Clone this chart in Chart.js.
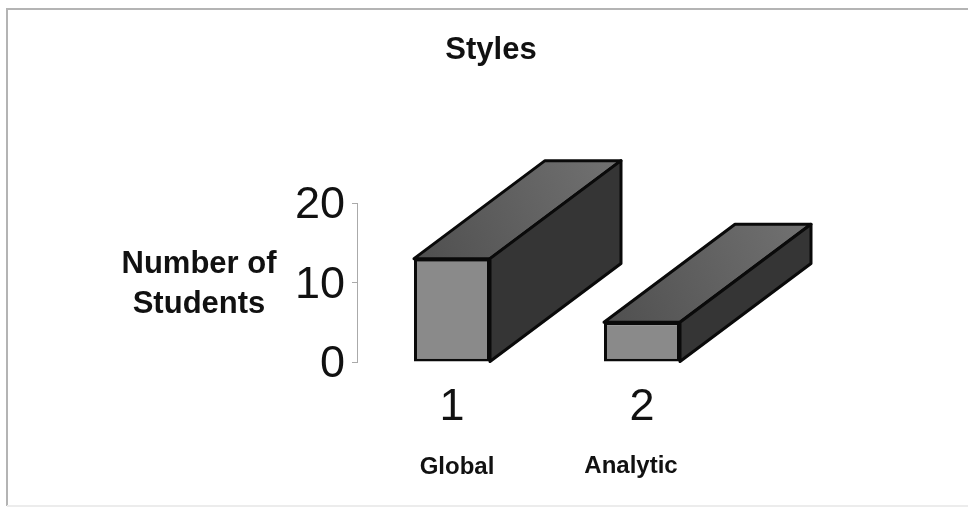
<!DOCTYPE html>
<html>
<head>
<meta charset="utf-8">
<title>Styles</title>
<style>
html, body { margin: 0; padding: 0; background: #fff; }
canvas { display: block; }
</style>
<script src="https://cdn.jsdelivr.net/npm/chart.js@4"></script>
</head>
<body>
<canvas id="canvas" width="968" height="510"></canvas>
<script>
const categories = ['1', '2'];
const students = [13, 5];
const styleNames = ['Global', 'Analytic'];
const yTicks = [0, 10, 20];

const FONT = '"Liberation Sans", Arial, sans-serif';

// extruded top and side of each bar, worked out from the bar elements
const depthBars = {
    id: 'depthBars',
    beforeDatasetsDraw(chart) {
        const ctx = chart.ctx;
        const dx = 131, dy = -98;
        chart.getDatasetMeta(0).data.forEach(function (bar) {
            const half = bar.width / 2;
            const l = bar.x - half, r = bar.x + half;
            const t = bar.y, b = bar.base;

            ctx.save();
            ctx.lineJoin = 'round';
            ctx.lineWidth = 3;
            ctx.strokeStyle = '#0a0a0a';

            const top = ctx.createLinearGradient(l, t, r + dx, t + dy);
            top.addColorStop(0, '#4f4f4f');
            top.addColorStop(1, '#727272');
            ctx.beginPath();
            ctx.moveTo(l, t);
            ctx.lineTo(l + dx, t + dy);
            ctx.lineTo(r + dx, t + dy);
            ctx.lineTo(r, t);
            ctx.closePath();
            ctx.fillStyle = top;
            ctx.fill();
            ctx.stroke();

            ctx.beginPath();
            ctx.moveTo(r, t);
            ctx.lineTo(r + dx, t + dy);
            ctx.lineTo(r + dx, b + dy);
            ctx.lineTo(r, b);
            ctx.closePath();
            ctx.fillStyle = '#353535';
            ctx.fill();
            ctx.stroke();
            ctx.restore();
        });
    }
};

// frame, title, y caption and the names under the categories
const notes = {
    id: 'notes',
    beforeDraw(chart) {
        const ctx = chart.ctx;
        ctx.save();
        ctx.strokeStyle = '#b4b4b4';
        ctx.lineWidth = 2;
        ctx.beginPath();
        ctx.moveTo(7, 506);
        ctx.lineTo(7, 9);
        ctx.lineTo(968, 9);
        ctx.stroke();
        ctx.strokeStyle = '#ececec';
        ctx.beginPath();
        ctx.moveTo(7, 506);
        ctx.lineTo(968, 506);
        ctx.stroke();
        ctx.restore();
    },
    afterDraw(chart) {
        const ctx = chart.ctx;
        ctx.save();
        ctx.fillStyle = '#111';
        ctx.textAlign = 'center';
        ctx.textBaseline = 'middle';
        ctx.font = 'bold 31px ' + FONT;
        ctx.fillText('Styles', 491, 50);
        ctx.font = 'bold 31px ' + FONT;
        ctx.fillText('Number of', 199, 264);
        ctx.fillText('Students', 199, 304);
        ctx.font = 'bold 24px ' + FONT;
        ctx.fillText(styleNames[0], 457, 467);
        ctx.fillText(styleNames[1], 631, 466);
        ctx.restore();
    }
};

const canvas = document.getElementById('canvas');
const chart = new Chart(canvas, {
    type: 'bar',
    data: {
        labels: categories,
        datasets: [{
            data: students,
            backgroundColor: '#8a8a8a',
            borderColor: '#0a0a0a',
            borderWidth: 3,
            borderSkipped: false,
            barPercentage: 0.4,
            categoryPercentage: 1
        }]
    },
    options: {
        responsive: false,
        animation: false,
        layout: { padding: { top: 203, right: 231, bottom: 0, left: 0 } },
        plugins: { legend: { display: false }, title: { display: false }, tooltip: { enabled: false } },
        scales: {
            x: {
                border: { display: false },
                grid: { display: false },
                ticks: { color: '#111', font: { family: FONT, size: 45 }, padding: 11, maxRotation: 0 },
                afterFit(scale) { scale.height = 148; }
            },
            y: {
                min: yTicks[0],
                max: yTicks[yTicks.length - 1],
                border: { color: '#aaaaaa', width: 1 },
                grid: { drawOnChartArea: false, color: '#aaaaaa', tickLength: 5 },
                ticks: { stepSize: 10, color: '#111', font: { family: FONT, size: 45 }, padding: 7, labelOffset: 3 },
                afterFit(scale) { scale.width = 357; }
            }
        }
    },
    plugins: [depthBars, notes]
});
</script>
</body>
</html>
